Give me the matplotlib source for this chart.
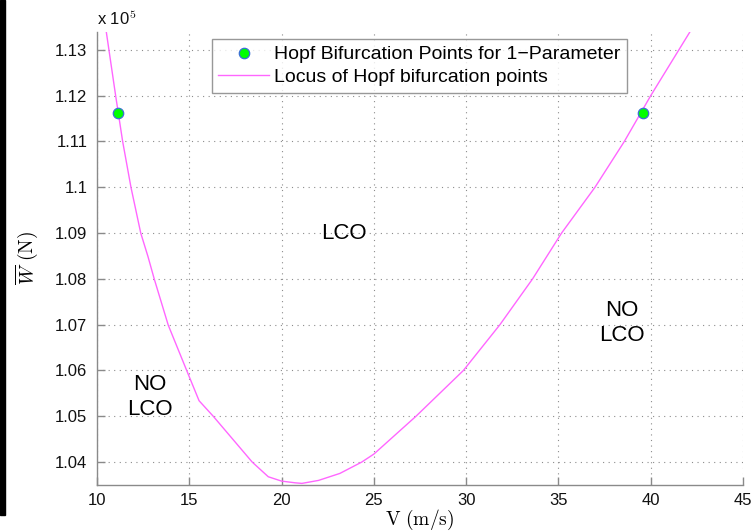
import matplotlib
matplotlib.use("Agg")
import matplotlib.pyplot as plt
from matplotlib.patches import Rectangle

plt.rcParams["font.family"] = ["Liberation Sans", "DejaVu Sans"]
plt.rcParams["mathtext.fontset"] = "cm"

# Locus of Hopf bifurcation points: airspeed V (m/s) vs. W-bar (N)
locus_v = [10.30, 10.49, 11.01, 11.39, 11.84, 12.37, 12.76, 13.10, 13.86, 14.86,
           15.53, 16.30, 18.41, 19.28, 20.00, 20.73, 21.10, 22.00, 23.16, 24.34,
           25.00, 27.28, 29.85, 31.83, 33.60, 35.17, 36.98, 38.57, 40.00,
           42.12, 42.40]
locus_w = [113800, 113430, 112000, 111000, 110000, 109000, 108490, 108000, 106990, 106000,
           105340, 105000, 104000, 103680, 103585, 103548, 103535, 103600, 103753, 104000,
           104175, 105000, 106000, 107000, 108000, 109000, 110000, 111000, 112000,
           113390, 113600]

# One-parameter Hopf bifurcation points
hopf_v = [11.12, 39.56]
hopf_w = [111630, 111630]

x_ticks = [10, 15, 20, 25, 30, 35, 40, 45]
y_ticks = [104000, 105000, 106000, 107000, 108000, 109000, 110000, 111000, 112000, 113000]
y_tick_labels = ["1.04", "1.05", "1.06", "1.07", "1.08", "1.09", "1.1", "1.11", "1.12", "1.13"]

fig = plt.figure(figsize=(7.51, 5.32), dpi=100)
ax = fig.add_axes([97 / 751, 47 / 532, 646 / 751, 453 / 532])

fig.patches.append(Rectangle((0, 17 / 532), 5 / 751, 515 / 532,
                             transform=fig.transFigure, color="black", zorder=0))

ax.plot(hopf_v, hopf_w, linestyle="none", marker="o", markersize=7.5,
        markerfacecolor="#00ff00", markeredgecolor="#3b6fd6", markeredgewidth=0.9,
        label="Hopf Bifurcation Points for 1\u2212Parameter", zorder=3)
ax.plot(locus_v, locus_w, color="#ff66ff", linewidth=1.0,
        label="Locus of Hopf bifurcation points", zorder=2)

ax.set_xlim(10, 45)
ax.set_ylim(103500, 113390)
ax.set_xticks(x_ticks)
ax.set_xticklabels([str(t) for t in x_ticks])
ax.set_yticks(y_ticks)
ax.set_yticklabels(y_tick_labels)

ax.grid(True, linestyle=(0, (1, 4)), color="#8c8c8c", linewidth=0.8)
ax.set_axisbelow(True)
for side in ("top", "right"):
    ax.spines[side].set_visible(False)
for side in ("left", "bottom"):
    ax.spines[side].set_color("#8a8a8a")
    ax.spines[side].set_linewidth(1.0)
ax.tick_params(direction="in", length=6, width=1.0, color="#8a8a8a",
               labelsize=12, labelcolor="#111111")
ax.tick_params(axis="x", pad=6)
ax.tick_params(axis="y", pad=7)

ax.set_xlabel(r"$\mathrm{V\ (m/s)}$", fontsize=14, labelpad=0)
ax.set_ylabel(r"$\overline{W}\ \mathrm{(N)}$", fontsize=14, labelpad=11)

fig.text(97 / 751, 1 - 18 / 532, r"x 10$^{5}$", fontsize=12, ha="left", va="center",
         color="#111111")

ax.text(23.4, 109000, "LCO", fontsize=16, ha="center", va="center")
ax.text(12.87, 105420, "NO\nLCO", fontsize=16, ha="center", va="center", linespacing=1.25)
ax.text(38.44, 107040, "NO\nLCO", fontsize=16, ha="center", va="center", linespacing=1.25)

leg = ax.legend(loc="upper center", bbox_to_anchor=(0.499, 0.9845), numpoints=1,
                fontsize=14, frameon=True, fancybox=False, borderpad=0.35,
                handlelength=2.6, handletextpad=0.25, labelspacing=0.25,
                borderaxespad=0)
leg.get_frame().set_edgecolor("#7f7f7f")
leg.get_frame().set_linewidth(1.0)

fig.savefig("out.png", dpi=100)
